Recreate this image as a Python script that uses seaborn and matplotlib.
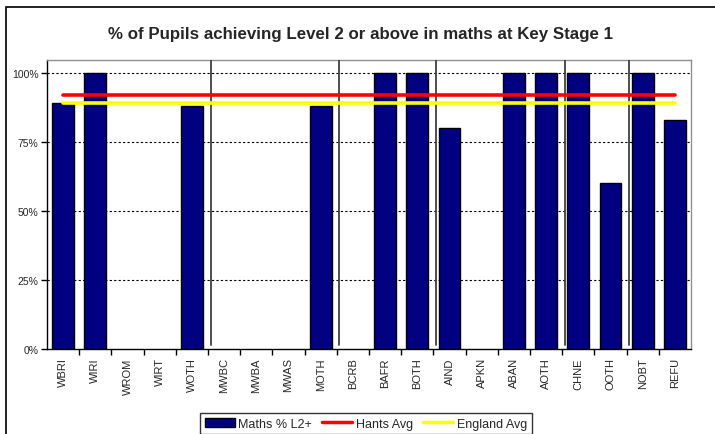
import numpy as np
import pandas as pd
import matplotlib

matplotlib.use("Agg")
import matplotlib.pyplot as plt
import seaborn as sns
from matplotlib.lines import Line2D
from matplotlib.patches import Patch, Rectangle
from matplotlib.ticker import FixedLocator, PercentFormatter


categories = [
    "WBRI", "WIRI", "WROM", "WIRT", "WOTH",
    "MWBC", "MWBA", "MWAS", "MOTH",
    "BCRB", "BAFR", "BOTH",
    "AIND", "APKN", "ABAN", "AOTH",
    "CHNE", "OOTH",
    "NOBT", "REFU",
]
maths_pct = [89, 100, 0, 0, 88, 0, 0, 0, 88, 0, 100, 100, 80, 0, 100, 100, 100, 60, 100, 83]
hants_avg = 92
england_avg = 89
# last category of each ethnic group -> separator after it
group_ends = ["WOTH", "MOTH", "BOTH", "AOTH", "OOTH"]

title = "% of Pupils achieving Level 2 or above in maths at Key Stage 1"

df = pd.DataFrame({"cat": categories, "pct": maths_pct})
df["hants"] = hants_avg
df["england"] = england_avg

sns.set_style("white")
narrow = ["Liberation Sans Narrow", "Liberation Sans", "DejaVu Sans"]
plt.rcParams["font.family"] = ["Liberation Sans", "DejaVu Sans"]

fig = plt.figure(figsize=(7.15, 4.35), dpi=100)
ax = fig.add_axes([47 / 715, 1 - 350 / 435, (691 - 47) / 715, (350 - 61) / 435])

# dotted gridlines behind the bars
for v in [25, 50, 75, 100]:
    ax.axhline(v, color="black", linestyle=(0, (2, 2)), linewidth=0.8, zorder=0)

sns.barplot(data=df, x="cat", y="pct", color="#000080", edgecolor="black",
            linewidth=1, width=0.68, saturation=1, ax=ax, zorder=2)
# empty categories: no outline sitting on the axis
for p in ax.patches:
    if p.get_height() == 0:
        p.set_linewidth(0)

# group separators
for name in group_ends:
    i = categories.index(name)
    ax.axvline(i + 0.58, ymin=0.015, ymax=1, color="#404040", linewidth=1.3, zorder=3)

sns.lineplot(data=df, x="cat", y="hants", color="#FF0000", linewidth=2.6, ax=ax, zorder=4)
sns.lineplot(data=df, x="cat", y="england", color="#FFFF00", linewidth=2.6, ax=ax, zorder=4)

ax.set_xlim(-0.5, len(categories) - 0.5)
ax.set_ylim(0, 104.7)
ax.set_xlabel("")
ax.set_ylabel("")

ax.yaxis.set_major_locator(FixedLocator([0, 25, 50, 75, 100]))
ax.yaxis.set_major_formatter(PercentFormatter(decimals=0))
for lab in ax.get_yticklabels():
    lab.set_fontfamily(narrow)
    lab.set_fontsize(7.5)
ax.tick_params(axis="y", direction="out", length=4, width=1, color="black", pad=2, left=True)

ax.set_xticks(range(len(categories)))
ax.set_xticklabels(categories, rotation=90, fontsize=8)
ax.tick_params(axis="x", which="major", length=0, pad=6)
ax.xaxis.set_minor_locator(FixedLocator(np.arange(0.5, len(categories) - 0.5, 1)))
ax.tick_params(axis="x", which="minor", direction="out", length=4, width=1, color="black", bottom=True)

for side in ["left", "bottom"]:
    ax.spines[side].set_color("black")
    ax.spines[side].set_linewidth(1)
for side in ["top", "right"]:
    ax.spines[side].set_color("#909090")
    ax.spines[side].set_linewidth(1)

fig.text(360 / 715, 1 - 34 / 435, title, ha="center", va="center",
         fontsize=12.2, fontweight="bold", family=narrow)

# outer chart frame
fig.patches.append(Rectangle((6 / 715, -0.1), 1.0, (435 - 8) / 435 + 0.1,
                             transform=fig.transFigure, fill=False,
                             edgecolor="black", linewidth=1.2))

handles = [
    Patch(facecolor="#000080", edgecolor="black", label="Maths % L2+"),
    Line2D([], [], color="#FF0000", linewidth=2.5, label="Hants Avg"),
    Line2D([], [], color="#FFFF00", linewidth=2.5, label="England Avg"),
]
leg = fig.legend(handles=handles, loc="upper center", bbox_to_anchor=(366 / 715, 1 - 408 / 435),
                 ncol=3, frameon=True, fancybox=False, prop={"family": narrow, "size": 9},
                 handlelength=2.4, handletextpad=0.3, columnspacing=0.8, borderpad=0.35)
leg.get_frame().set_edgecolor("black")
leg.get_frame().set_linewidth(1)

fig.savefig("out.png", dpi=100)
